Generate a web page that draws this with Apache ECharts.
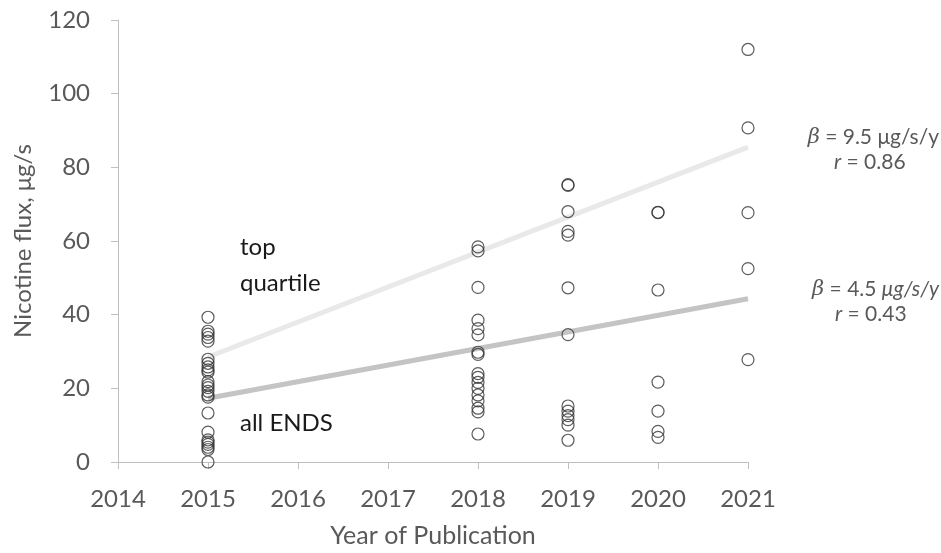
<!DOCTYPE html>
<html><head><meta charset="utf-8">
<script src="https://cdn.jsdelivr.net/npm/echarts@6/dist/echarts.min.js"></script>
<style>html,body{margin:0;padding:0;background:#fff}#c{width:941px;height:553px}</style>
</head><body><div id="c"></div>
<script>
const xTicks = [2014, 2015, 2016, 2017, 2018, 2019, 2020, 2021];
const yTicks = [0, 20, 40, 60, 80, 100, 120];
const flux2015 = [39.3, 35.5, 34.7, 33.8, 32.8, 27.9, 26.8, 25.8, 25.0, 24.4, 21.8, 20.9, 20.2, 19.2, 18.2, 17.6, 13.3, 8.1, 6.0, 5.4, 4.8, 4.0, 3.4, 0];
const flux2018 = [58.4, 57.3, 47.4, 38.5, 36.2, 34.5, 29.8, 29.2, 24.0, 23.0, 21.6, 20.0, 18.2, 16.6, 14.6, 13.6, 7.6];
const flux2019 = [75.3, 75.1, 68.0, 62.6, 61.6, 47.3, 34.6, 15.2, 13.8, 12.6, 11.5, 10.0, 5.9];
const flux2020 = [67.8, 67.7, 46.7, 21.7, 13.8, 8.3, 6.7];
const flux2021 = [112.0, 90.7, 67.7, 52.5, 27.8];
const trendYears = [2015, 2021];
const trendTop = [28.5, 85.5];
const trendAll = [17.3, 44.3];

function pts(year, arr){ return arr.map(v => [year, v]); }
const scatterData = [].concat(
  pts(2015, flux2015), pts(2018, flux2018), pts(2019, flux2019),
  pts(2020, flux2020), pts(2021, flux2021));

const font = 'Lato, "Open Sans", sans-serif';
const chart = echarts.init(document.getElementById('c'));
chart.setOption({
  animation: false,
  grid: {left: 118, right: 193, top: 20, bottom: 90},
  xAxis: {
    type: 'value', min: 2014, max: 2021, interval: 1,
    axisLine: {show: true, lineStyle: {color: '#bfbfbf', width: 1}},
    axisTick: {show: true, length: 7, lineStyle: {color: '#bfbfbf'}},
    splitLine: {show: false},
    axisLabel: {color: '#595959', fontSize: 24, fontFamily: font, margin: 25, formatter: v => String(v)},
    name: 'Year of Publication', nameLocation: 'middle', nameGap: 61,
    nameTextStyle: {color: '#595959', fontSize: 25, fontFamily: font}
  },
  yAxis: {
    type: 'value', min: 0, max: 120, interval: 20,
    axisLine: {show: true, lineStyle: {color: '#bfbfbf', width: 1}},
    axisTick: {show: true, length: 7, lineStyle: {color: '#bfbfbf'}},
    splitLine: {show: false},
    axisLabel: {color: '#595959', fontSize: 24, fontFamily: font, margin: 28},
    name: 'Nicotine flux, μg/s', nameLocation: 'middle', nameGap: 83,
    nameTextStyle: {color: '#595959', fontSize: 24, fontFamily: font}
  },
  series: [
    {type: 'line', data: trendYears.map((x, i) => [x, trendTop[i]]), symbol: 'none',
     lineStyle: {color: '#e9e9e9', width: 5}, z: 1},
    {type: 'line', data: trendYears.map((x, i) => [x, trendAll[i]]), symbol: 'none',
     lineStyle: {color: '#c4c4c4', width: 5}, z: 1},
    {type: 'scatter', data: scatterData, symbol: 'circle', symbolSize: 12,
     itemStyle: {color: 'rgba(255,255,255,0)', borderColor: '#333333', borderWidth: 1.2}, z: 3}
  ],
  graphic: [
    {type: 'text', left: 240, top: 229, style: {text: 'top\nquartile', fill: '#1a1a1a', font: '24px ' + font, lineHeight: 36}},
    {type: 'text', left: 240, top: 411, style: {text: 'all ENDS', fill: '#1a1a1a', font: '24px ' + font}},
    {type: 'text', right: 2, top: 127, style: {
      text: '{i|β} = 9.5 μg/s/y', fill: '#595959', font: '21px ' + font,
      rich: {i: {fontStyle: 'italic', fontSize: 21, fontFamily: 'DejaVu Serif', fill: '#595959'}}}},
    {type: 'text', left: 834, top: 152, style: {
      text: '{i|r} = 0.86', fill: '#595959', font: '21px ' + font,
      rich: {i: {fontStyle: 'italic', fontSize: 21, fontFamily: font, fill: '#595959'}}}},
    {type: 'text', right: 2, top: 279, style: {
      text: '{i|β} = 4.5 {j|μg/s/y}', fill: '#595959', font: '21px ' + font,
      rich: {i: {fontStyle: 'italic', fontSize: 21, fontFamily: 'DejaVu Serif', fill: '#595959'},
             j: {fontStyle: 'italic', fontSize: 21, fontFamily: font, fill: '#595959'}}}},
    {type: 'text', left: 835, top: 304, style: {
      text: '{i|r} = 0.43', fill: '#595959', font: '21px ' + font,
      rich: {i: {fontStyle: 'italic', fontSize: 21, fontFamily: font, fill: '#595959'}}}}
  ]
});
</script></body></html>
